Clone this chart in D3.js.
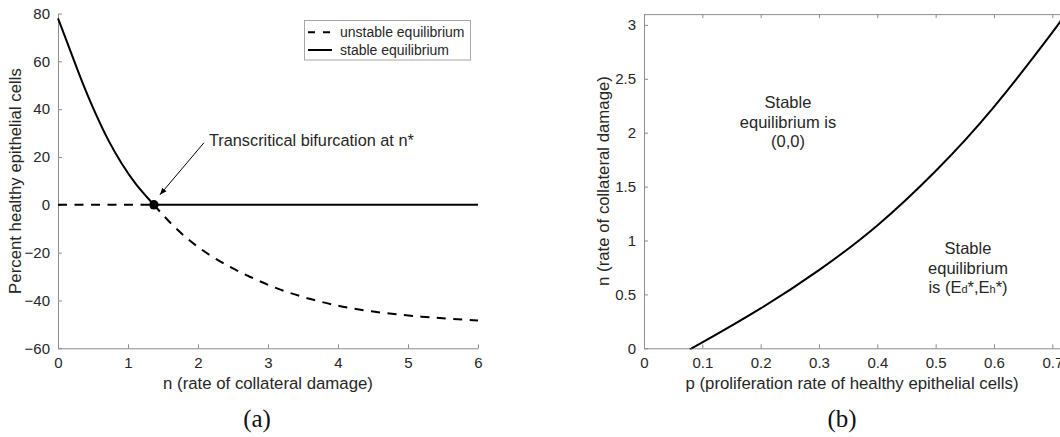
<!DOCTYPE html>
<html>
<head>
<meta charset="utf-8">
<script src="https://cdn.jsdelivr.net/npm/d3@7/dist/d3.min.js"></script>
<style>
  html, body { margin: 0; padding: 0; background: #fff; }
  svg { display: block; }
  text { font-family: "Liberation Sans", Arial, Helvetica, sans-serif; fill: #262626; }
  .caption { font-family: "Liberation Serif", "DejaVu Serif", serif; fill: #111; }
</style>
</head>
<body>
<svg id="fig" width="1060" height="437"></svg>
<script>
// ---- Panel (a): equilibrium branches vs. collateral damage rate n ----
const nStar = 1.37;
const stableN      = [0, 0.15, 0.29, 0.43, 0.58, 0.72, 0.91, 1.1, 1.37];
const stableVals   = [78, 66.5, 55.5, 45.2, 35.3, 26.7, 17.0, 8.8, 0];
const unstableN    = [1.37, 1.65, 1.98, 2.36, 2.74, 3.17, 3.65, 4.12, 4.7, 5.22, 5.6, 6.0];
const unstableVals = [0, -9.2, -17.6, -24.6, -30.2, -35.7, -39.9, -43.1, -45.5, -46.9, -47.6, -48.4];
const aXTicks = [0, 1, 2, 3, 4, 5, 6];
const aYTicks = [-60, -40, -20, 0, 20, 40, 60, 80];

// ---- Panel (b): bifurcation boundary in the (p, n) plane ----
const boundaryP = [0.08, 0.1, 0.2, 0.3, 0.4, 0.5, 0.6, 0.7, 0.722];
const boundaryN = [0, 0.055, 0.37, 0.725, 1.14, 1.645, 2.24, 2.93, 3.1];
const bXTicks = [0, 0.1, 0.2, 0.3, 0.4, 0.5, 0.6, 0.7];
const bYTicks = [0, 0.5, 1, 1.5, 2, 2.5, 3];

const svg = d3.select("#fig");
const axisColor = "#8c8c8c";
const tickFont = 15;

function styleAxis(g) {
  g.select(".domain").attr("stroke", axisColor).attr("stroke-width", 1);
  g.selectAll(".tick line").attr("stroke", axisColor);
  g.selectAll(".tick text").attr("font-size", tickFont).attr("fill", "#262626")
    .attr("font-family", "Liberation Sans, Arial, sans-serif");
}

// ================= Panel (a) =================
const xa = d3.scaleLinear().domain([0, 6]).range([58, 478]);
const ya = d3.scaleLinear().domain([-60, 80]).range([348.3, 13.5]);
const ga = svg.append("g");

ga.append("g").attr("transform", `translate(0,${ya(-60)})`)
  .call(d3.axisBottom(xa).tickValues(aXTicks).tickSize(-4).tickSizeOuter(0).tickPadding(9).tickFormat(d3.format("d")))
  .call(styleAxis);
ga.append("g").attr("transform", `translate(${xa(0)},0)`)
  .call(d3.axisLeft(ya).tickValues(aYTicks).tickSize(-4).tickSizeOuter(0).tickPadding(8).tickFormat(d3.format("d")))
  .call(styleAxis);

const lineA = d3.line().x(d => xa(d[0])).y(d => ya(d[1])).curve(d3.curveBasis);
const flatA = d3.line().x(d => xa(d[0])).y(d => ya(d[1]));

// zero branch: unstable before n*, stable after
ga.append("path").datum([[0, 0], [nStar, 0]]).attr("d", flatA)
  .attr("fill", "none").attr("stroke", "#000").attr("stroke-width", 2).attr("stroke-dasharray", "9,7.5");
ga.append("path").datum([[nStar, 0], [6, 0]]).attr("d", flatA)
  .attr("fill", "none").attr("stroke", "#000").attr("stroke-width", 2);

// nonzero branch: stable before n*, unstable after
ga.append("path").datum(stableN.map((n, i) => [n, stableVals[i]])).attr("d", lineA)
  .attr("fill", "none").attr("stroke", "#000").attr("stroke-width", 2);
ga.append("path").datum(unstableN.map((n, i) => [n, unstableVals[i]])).attr("d", lineA)
  .attr("fill", "none").attr("stroke", "#000").attr("stroke-width", 2).attr("stroke-dasharray", "9,7.5");

// bifurcation point
ga.append("circle").attr("cx", xa(nStar)).attr("cy", ya(0)).attr("r", 4.7).attr("fill", "#000");

// annotation arrow
svg.append("defs").append("marker").attr("id", "arrowHead")
  .attr("viewBox", "0 0 10 10").attr("refX", 10).attr("refY", 5)
  .attr("markerWidth", 7).attr("markerHeight", 7).attr("orient", "auto")
  .append("path").attr("d", "M0,1 L10,5 L0,9 Z").attr("fill", "#000");
ga.append("line")
  .attr("x1", xa(nStar) + 50).attr("y1", ya(0) - 62)
  .attr("x2", xa(nStar) + 6).attr("y2", ya(0) - 10)
  .attr("stroke", "#000").attr("stroke-width", 1).attr("marker-end", "url(#arrowHead)");
ga.append("text").attr("x", 209).attr("y", 146).attr("font-size", 16.3)
  .text("Transcritical bifurcation at n*");

// legend
const leg = ga.append("g");
leg.append("rect").attr("x", 304.5).attr("y", 20.5).attr("width", 166).attr("height", 39.5)
  .attr("fill", "#fff").attr("stroke", "#a6a6a6").attr("stroke-width", 1);
leg.append("line").attr("x1", 308).attr("x2", 332).attr("y1", 32.3).attr("y2", 32.3)
  .attr("stroke", "#000").attr("stroke-width", 2).attr("stroke-dasharray", "7,8");
leg.append("line").attr("x1", 308).attr("x2", 332).attr("y1", 50).attr("y2", 50)
  .attr("stroke", "#000").attr("stroke-width", 2);
leg.append("text").attr("x", 340).attr("y", 37).attr("font-size", 14).text("unstable equilibrium");
leg.append("text").attr("x", 340).attr("y", 54.7).attr("font-size", 14).text("stable equilibrium");

// axis labels and caption
ga.append("text").attr("x", 268).attr("y", 389).attr("text-anchor", "middle").attr("font-size", 16.8)
  .text("n (rate of collateral damage)");
ga.append("text").attr("transform", "translate(21,181) rotate(-90)").attr("text-anchor", "middle")
  .attr("font-size", 16.8).text("Percent healthy epithelial cells");
ga.append("text").attr("class", "caption").attr("x", 257).attr("y", 427).attr("text-anchor", "middle")
  .attr("font-size", 25).text("(a)");

// ================= Panel (b) =================
const xb = d3.scaleLinear().domain([0, 0.72]).range([644, 644 + 0.72 * 583.3]);
const yb = d3.scaleLinear().domain([0, 3.1]).range([348.3, 348.3 - 3.1 * 107.8]);
const gb = svg.append("g");

gb.append("g").attr("transform", `translate(0,${yb(0)})`)
  .call(d3.axisBottom(xb).tickValues(bXTicks).tickSize(-4).tickSizeOuter(0).tickPadding(9)
    .tickFormat(d => d === 0 ? "0" : d3.format(".1f")(d)))
  .call(styleAxis);
gb.append("g").attr("transform", `translate(0,${yb(3.1)})`)
  .call(d3.axisTop(xb).tickValues(bXTicks).tickSize(-4).tickSizeOuter(0).tickFormat(""))
  .call(styleAxis);
gb.append("g").attr("transform", `translate(${xb(0)},0)`)
  .call(d3.axisLeft(yb).tickValues(bYTicks).tickSize(-4).tickSizeOuter(0).tickPadding(8)
    .tickFormat(d => d3.format("~g")(d)))
  .call(styleAxis);

const lineB = d3.line().x(d => xb(d[0])).y(d => yb(d[1])).curve(d3.curveNatural);
gb.append("path").datum(boundaryP.map((p, i) => [p, boundaryN[i]])).attr("d", lineB)
  .attr("fill", "none").attr("stroke", "#000").attr("stroke-width", 2);

// region labels
const reg1 = gb.append("text").attr("text-anchor", "middle").attr("font-size", 16.5);
reg1.append("tspan").attr("x", 788).attr("y", 108).text("Stable");
reg1.append("tspan").attr("x", 788).attr("y", 127.5).text("equilibrium is");
reg1.append("tspan").attr("x", 788).attr("y", 146.5).text("(0,0)");

const reg2 = gb.append("text").attr("text-anchor", "middle").attr("font-size", 16.5);
reg2.append("tspan").attr("x", 968).attr("y", 254).text("Stable");
reg2.append("tspan").attr("x", 968).attr("y", 273.5).text("equilibrium");
const l3 = reg2.append("tspan").attr("x", 968).attr("y", 292.7);
l3.append("tspan").text("is (E");
l3.append("tspan").attr("font-size", 11).text("d");
l3.append("tspan").text("*,E");
l3.append("tspan").attr("font-size", 11).text("h");
l3.append("tspan").text("*)");

gb.append("text").attr("x", 852).attr("y", 389).attr("text-anchor", "middle").attr("font-size", 16.8)
  .text("p (proliferation rate of healthy epithelial cells)");
gb.append("text").attr("transform", "translate(609,181) rotate(-90)").attr("text-anchor", "middle")
  .attr("font-size", 16.8).text("n (rate of collateral damage)");
gb.append("text").attr("class", "caption").attr("x", 842).attr("y", 427).attr("text-anchor", "middle")
  .attr("font-size", 25).text("(b)");
</script>
</body>
</html>
